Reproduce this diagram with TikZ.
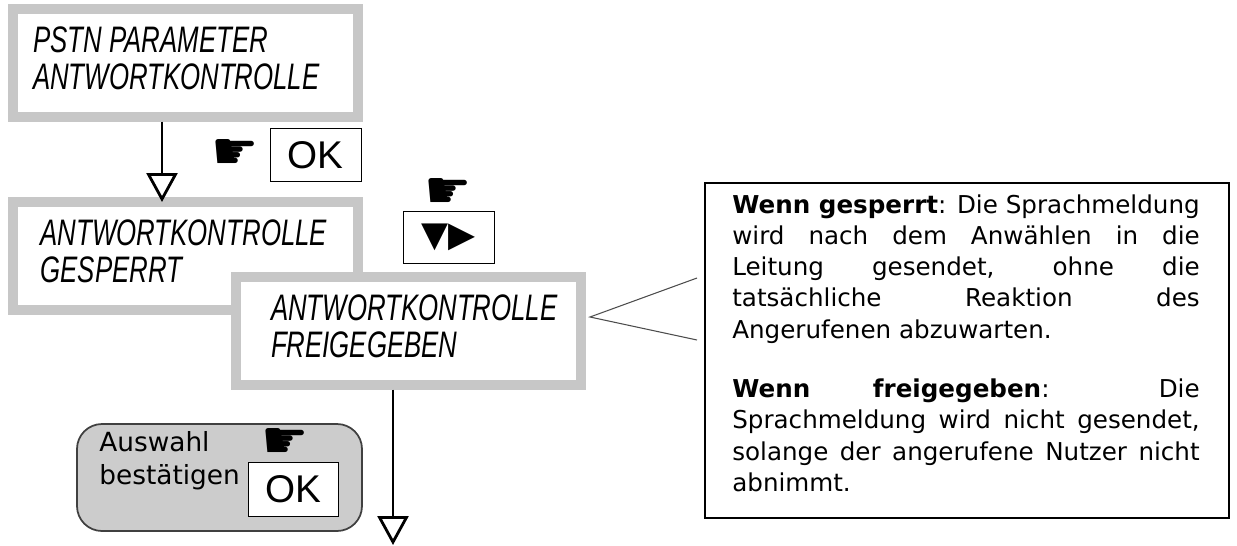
\documentclass[tikz,border=0pt]{standalone}
\usepackage{fontspec}
\setmainfont{DejaVu Sans}
\newfontfamily\lcdfont{Liberation Sans}
\newfontfamily\keyfont{Liberation Sans}
\newfontfamily\symfont{DejaVu Sans}
\usetikzlibrary{arrows.meta,positioning}

\tikzset{
  lcd/.style={draw=black!22, line width=0.2cm, fill=white, minimum width=6.9cm,
    minimum height=2.15cm, inner sep=0pt, font=\lcdfont\itshape\fontsize{21}{24}\selectfont},
  key/.style={draw, line width=0.5pt, fill=white, minimum width=1.82cm, minimum height=1.05cm,
    inner sep=0pt, font=\keyfont\fontsize{22}{24}\selectfont},
  hand/.style={font=\symfont\fontsize{30}{30}\selectfont, inner sep=0pt},
  flow/.style={line width=1.6pt, -{Triangle[open, length=0.58cm, width=0.62cm, line width=1.6pt]}},
}
\newcommand{\lcdtext}[3]{\makebox[6.5cm][l]{\hspace*{#1}\scalebox{0.7}[1]{\begin{tabular}{@{}l@{}}#2\\[-3pt]#3\end{tabular}}}}

\begin{document}
\begin{tikzpicture}[x=0.02cm, y=-0.02cm]
  \useasboundingbox (0,0) rectangle (1237,545);

  % display states
  \node[lcd] (pstn) at (185.5,63) {\lcdtext{0.2cm}{PSTN PARAMETER}{ANTWORTKONTROLLE}};
  \node[lcd] (locked) at (185.5,256) {\lcdtext{0.35cm}{ANTWORTKONTROLLE}{GESPERRT}};
  \node[lcd] (enabled) at (408.5,331) {\lcdtext{0.5cm}{ANTWORTKONTROLLE}{FREIGEGEBEN}};

  % keys
  \node[key] (ok) at (315.5,155) {OK};
  \node[hand, left=0.2cm of ok] (handok) {☛};
  \node[key, minimum height=1.04cm] (arrows) at (448.5,237) {\symfont\fontsize{20}{20}\selectfont ▼▶};
  \node[hand] (handarr) at (448,194) {☛};

  % confirm box
  \draw[fill=black!20, rounded corners=0.5cm, line width=1pt, draw=black!75] (77,424) rectangle (362,531);
  \node[anchor=north west, align=left, inner sep=0pt, font=\fontsize{15}{19}\selectfont] (confirm) at (99,431) {Auswahl\\bestätigen};
  \node[key, minimum width=1.8cm, minimum height=1.08cm] (okconfirm) at (293,489) {OK};
  \node[hand] (handconf) at (285,443) {☛};

  % flow
  \draw[flow] (pstn.south -| 162,0) -- (162,202);
  \coordinate (bottom) at (393,545);
  \draw[flow] (enabled.south -| bottom) -- (bottom);

  % note
  \node[draw, line width=0.8pt, minimum width=10.48cm, minimum height=6.7cm, inner sep=0pt] (note) at (967,350.5) {};
  \node[text width=9.35cm, align=justify, inner sep=0pt, anchor=north,
    font=\fontsize{14}{17.8}\selectfont] (notetext) at (966,194)
    {\textbf{Wenn gesperrt}: Die Sprachmeldung\linebreak wird nach dem Anwählen in die\linebreak
     Leitung gesendet, ohne die\linebreak tatsächliche Reaktion des\linebreak Angerufenen abzuwarten.\par\vspace{16pt}
     \textbf{Wenn freigegeben}: Die\linebreak Sprachmeldung wird nicht gesendet,\linebreak
     solange der angerufene Nutzer nicht\linebreak abnimmt.};
  \coordinate (tip) at (590,317);
  \draw[black!70, line width=0.6pt] (697,278) -- (tip) -- (697,340);
\end{tikzpicture}
\end{document}
